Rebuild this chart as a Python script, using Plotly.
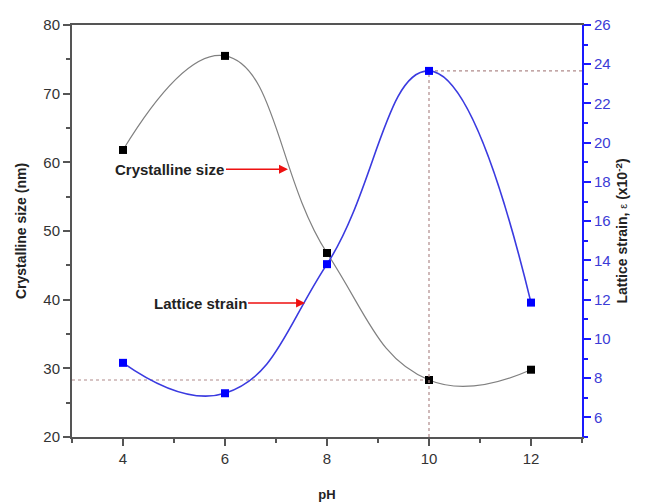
import plotly.graph_objects as go

ph = [4, 6, 8, 10, 12]
crystalline_size = [61.8, 75.5, 46.8, 28.3, 29.8]
lattice_strain = [8.78, 7.23, 13.81, 23.66, 11.85]

x_range = [3, 13]
y_range = [20, 80]
y2_range = [5, 26]

x_ticks = [4, 6, 8, 10, 12]
y_ticks = [20, 30, 40, 50, 60, 70, 80]
y2_ticks = [6, 8, 10, 12, 14, 16, 18, 20, 22, 24, 26]

FONT = "Liberation Sans, Arial, sans-serif"
BLUE = "#1a1aff"
AXIS = "#555555"
DOT = "#b08a8a"

fig = go.Figure()

# reference dotted lines at pH 10
peak_i = 3
fig.add_trace(go.Scatter(x=[x_range[0], ph[peak_i]], y=[crystalline_size[peak_i]] * 2,
                         mode="lines", line=dict(color=DOT, width=1.2, dash="dot"),
                         showlegend=False, hoverinfo="skip"))
fig.add_trace(go.Scatter(x=[ph[peak_i], ph[peak_i]], y=[y2_range[0], lattice_strain[peak_i]],
                         mode="lines", line=dict(color=DOT, width=1.2, dash="dot"),
                         yaxis="y2", showlegend=False, hoverinfo="skip"))
fig.add_trace(go.Scatter(x=[ph[peak_i], x_range[1]], y=[lattice_strain[peak_i]] * 2,
                         mode="lines", line=dict(color=DOT, width=1.2, dash="dot"),
                         yaxis="y2", showlegend=False, hoverinfo="skip"))

fig.add_trace(go.Scatter(x=ph, y=crystalline_size, mode="lines+markers",
                         line=dict(color="#808080", width=1.2, shape="spline", smoothing=1.3),
                         marker=dict(symbol="square", size=8, color="black"),
                         name="Crystalline size", showlegend=False))
fig.add_trace(go.Scatter(x=ph, y=lattice_strain, mode="lines+markers", yaxis="y2",
                         line=dict(color="#3a3ae0", width=1.6, shape="spline", smoothing=1.3),
                         marker=dict(symbol="square", size=8, color="#0000ff"),
                         name="Lattice strain", showlegend=False))

fig.update_layout(
    width=646, height=502,
    margin=dict(l=72, r=64, t=25, b=65),
    plot_bgcolor="white", paper_bgcolor="white",
    font=dict(family=FONT, color="#333333"),
    xaxis=dict(range=x_range, tickvals=x_ticks, showgrid=False, zeroline=False, automargin=False,
               showline=True, linecolor=AXIS, linewidth=2, mirror=True,
               ticks="outside", ticklen=7, tickwidth=1.5, tickcolor=AXIS,
               minor=dict(dtick=1, tick0=3, ticks="outside", ticklen=4, tickcolor=AXIS, showgrid=False),
               tickfont=dict(size=15, color="#333333"),
               title=dict(text="<b>pH</b>", font=dict(size=13, color="#222222"), standoff=25)),
    yaxis=dict(range=y_range, tickvals=y_ticks, showgrid=False, zeroline=False, automargin=False,
               showline=True, linecolor=AXIS, linewidth=2,
               ticks="outside", ticklen=7, tickwidth=1.5, tickcolor=AXIS,
               minor=dict(dtick=5, tick0=20, ticks="outside", ticklen=4, tickcolor=AXIS, showgrid=False),
               tickfont=dict(size=15, color="#333333"),
               title=dict(text="<b>Crystalline size (nm)</b>", font=dict(size=14, color="#222222"), standoff=13)),
    yaxis2=dict(range=y2_range, tickvals=y2_ticks, overlaying="y", side="right",
                showgrid=False, zeroline=False, automargin=False,
                showline=True, linecolor=BLUE, linewidth=2,
                ticks="outside", ticklen=7, tickwidth=1.5, tickcolor=BLUE,
                minor=dict(dtick=1, tick0=5, ticks="outside", ticklen=4, tickcolor=BLUE, showgrid=False),
                tickfont=dict(size=15, color="#3b3bd6"),
                title=dict(text="<b>Lattice strain, </b><span style='font-size:11px'>ε</span><b> (x10<sup>-2</sup>)</b>",
                           font=dict(size=14, color="#222222"), standoff=8)),
    annotations=[
        dict(xref="paper", yref="paper", x=0.4235, y=0.650, ax=-118, ay=0,
             text="<b>Crystalline size</b>", font=dict(size=15, color="#222222", family=FONT),
             showarrow=True, arrowhead=2, arrowsize=1.2, arrowwidth=1.5, arrowcolor="#ee1111"),
        dict(xref="paper", yref="paper", x=0.457, y=0.325, ax=-105, ay=0,
             text="<b>Lattice strain</b>", font=dict(size=15, color="#222222", family=FONT),
             showarrow=True, arrowhead=2, arrowsize=1.2, arrowwidth=1.5, arrowcolor="#ee1111"),
    ],
)

fig.write_html("out.html")
